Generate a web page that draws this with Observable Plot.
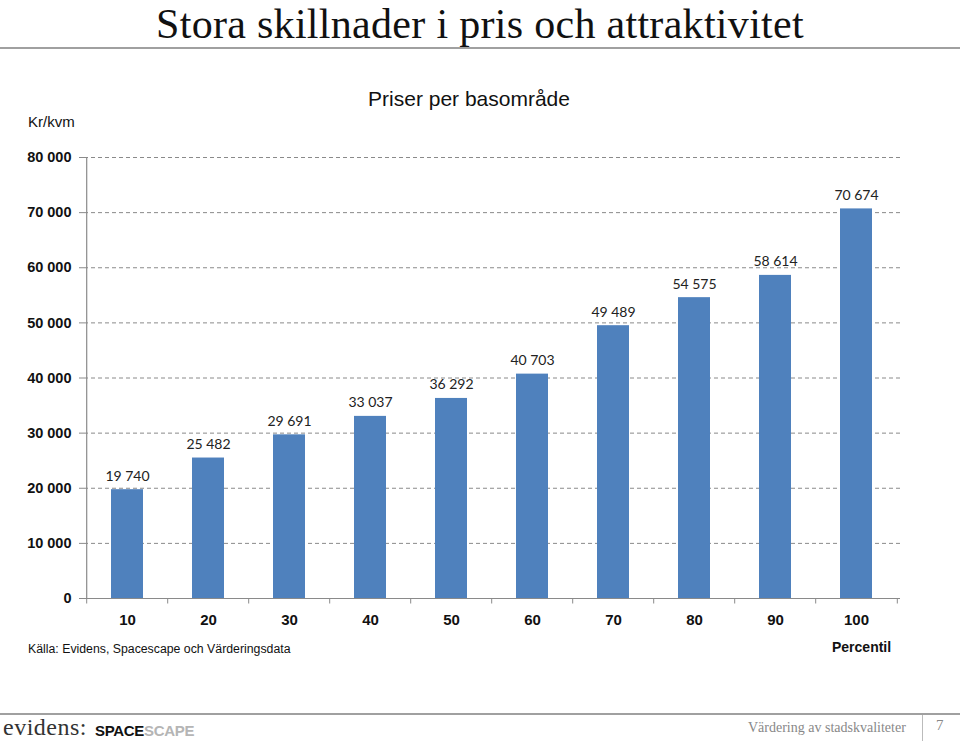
<!DOCTYPE html>
<html><head><meta charset="utf-8">
<script src="https://cdn.jsdelivr.net/npm/d3@7"></script>
<script src="https://cdn.jsdelivr.net/npm/@observablehq/plot@0.6"></script>
<style>
body{margin:0;background:#fff;width:960px;height:741px;overflow:hidden;position:relative;font-family:"Liberation Sans",Arial,sans-serif;}
.t{position:absolute;white-space:nowrap;line-height:1.15;}
#chart{position:absolute;left:0;top:0;}
</style></head><body>
<div class="t" style="left:0;width:960px;text-align:center;top:0;font-family:'Liberation Serif',serif;font-size:42px;line-height:normal;color:#111;letter-spacing:0.3px;">Stora skillnader i pris och attraktivitet</div>
<div class="t" style="left:0;top:47px;width:960px;height:2px;background:#a0a0a0;"></div>
<div class="t" style="left:0;width:938px;text-align:center;top:87px;font-size:21px;color:#111;">Priser per basområde</div>
<div class="t" style="left:28px;top:113px;font-size:15px;color:#111;">Kr/kvm</div>
<div id="chart"></div>
<div class="t" style="left:28px;top:642px;font-size:12.3px;color:#111;">Källa: Evidens, Spacescape och Värderingsdata</div>
<div class="t" style="left:832px;top:639px;font-size:14px;font-weight:bold;color:#111;">Percentil</div>
<div class="t" style="left:0;top:713px;width:960px;height:2px;background:#a0a0a0;"></div>
<div class="t" style="left:3px;top:714px;font-family:'Liberation Serif',serif;font-size:24px;color:#333;letter-spacing:0.5px;">evidens:</div>
<div class="t" style="left:95px;top:722px;font-size:15px;font-weight:bold;color:#111;letter-spacing:-0.3px;">SPACE<span style="color:#b5b5b5;font-weight:bold;">SCAPE</span></div>
<div class="t" style="left:748px;top:720px;font-family:'Liberation Serif',serif;font-size:14px;color:#888;">Värdering av stadskvaliteter</div>
<div class="t" style="left:922px;top:715px;width:1px;height:26px;background:#bbb;"></div>
<div class="t" style="left:936px;top:717px;font-family:'Liberation Serif',serif;font-size:15px;color:#888;">7</div>
<script>
const percentiles = ["10","20","30","40","50","60","70","80","90","100"];
const prices = [19740, 25482, 29691, 33037, 36292, 40703, 49489, 54575, 58614, 70674];
const yTicks = [0, 10000, 20000, 30000, 40000, 50000, 60000, 70000, 80000];

const data = percentiles.map((p, i) => ({p, v: prices[i]}));
const fmt = d => d3.format(",")(d).replace(/,/g, " ");
const half = 816 / 10 / 2;

const chart = Plot.plot({
  width: 960,
  height: 741,
  marginTop: 157,
  marginBottom: 143,
  marginLeft: 84,
  marginRight: 60,
  style: {fontFamily: "Liberation Sans, Arial, sans-serif", background: "transparent"},
  x: {domain: percentiles, paddingInner: 0.6, paddingOuter: 0.3},
  y: {domain: [0, 80000]},
  marks: [
    Plot.gridY(yTicks, {stroke: "#8a8a8a", strokeOpacity: 1, strokeDasharray: "4,3"}),
    Plot.barY(data, {x: "p", y: "v", fill: "#4F81BD"}),
    Plot.text(data, {x: "p", y: "v", text: d => fmt(d.v), lineAnchor: "bottom", dy: -9,
      fontSize: 14, fontFamily: "Lato, 'Open Sans', sans-serif", fill: "#222"}),
    Plot.ruleY([0], {stroke: "#8a8a8a", strokeWidth: 1.2}),
    Plot.ruleX(["10"], {x: d => d, dx: -half, y1: 0, y2: 80000, stroke: "#8a8a8a", strokeWidth: 1.2}),
    Plot.ruleX(percentiles, {x: d => d, dx: -half, y1: 0, y2: -1000, stroke: "#8a8a8a"}),
    Plot.ruleX(["100"], {x: d => d, dx: half, y1: 0, y2: -1000, stroke: "#8a8a8a"}),
    Plot.axisY(yTicks, {tickSize: 5, tickPadding: 8, tickFormat: fmt, fontSize: 14.5, fontWeight: "bold",
      fill: "#111", stroke: "#8a8a8a", label: null}),
    Plot.axisX({tickSize: 0, tickPadding: 16, fontSize: 15, fontWeight: "bold", fill: "#111", label: null})
  ]
});
document.getElementById("chart").appendChild(chart);
</script>
</body></html>
